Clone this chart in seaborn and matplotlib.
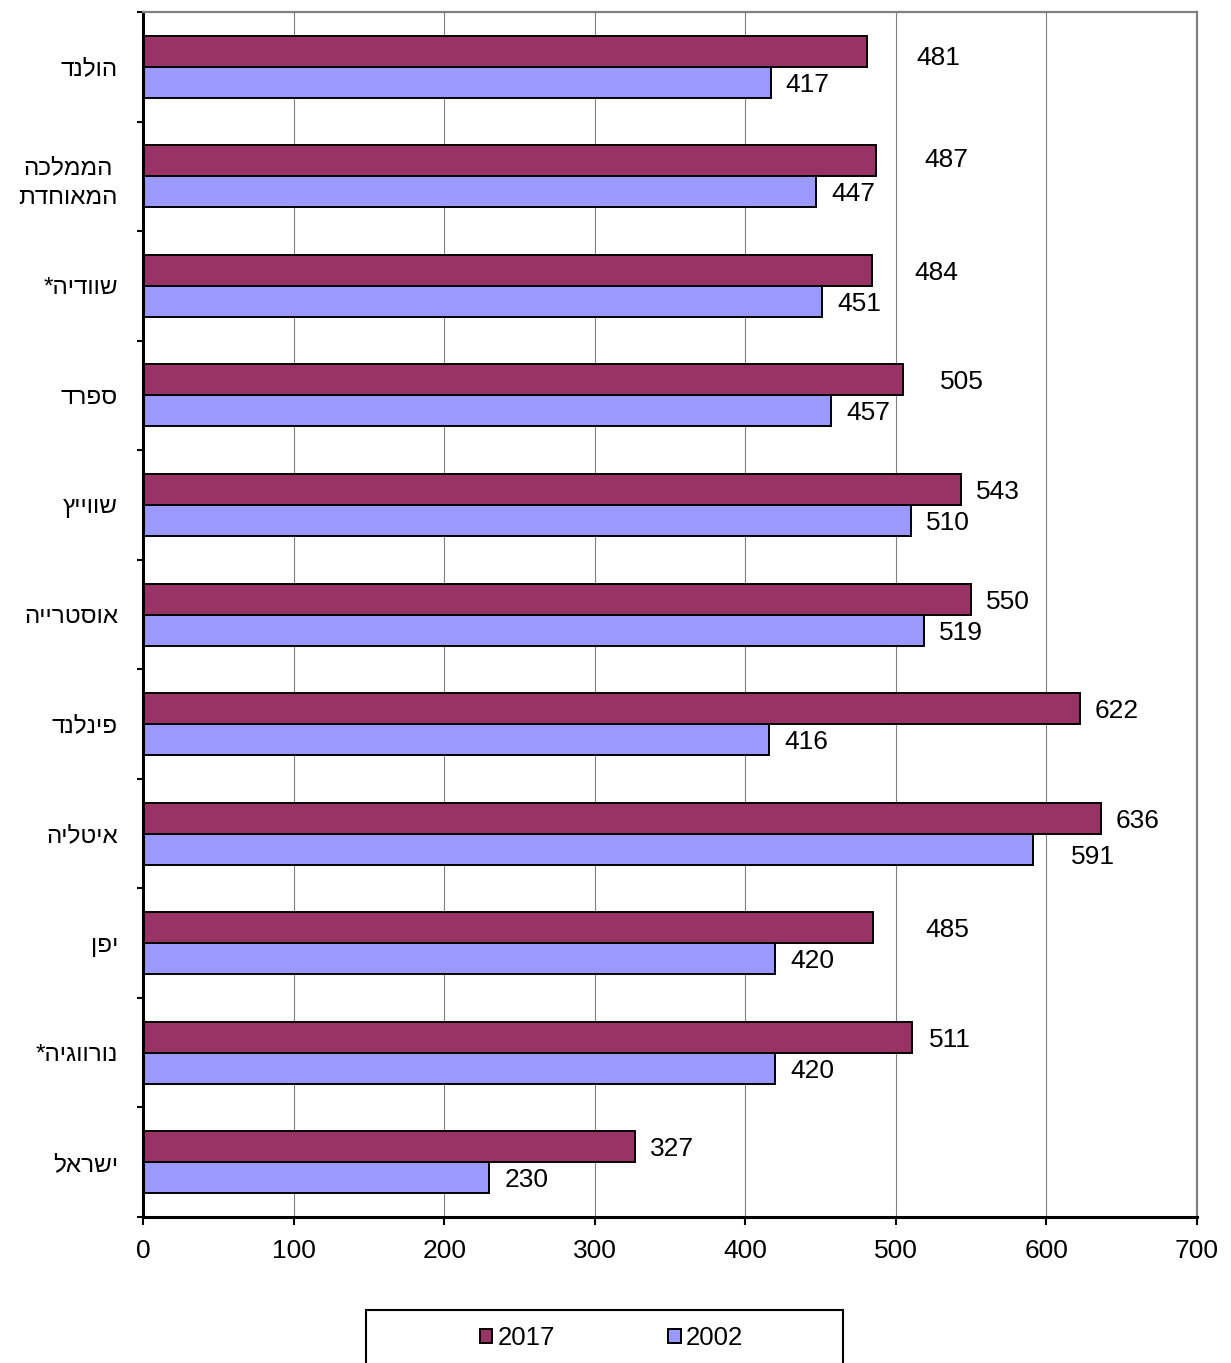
import numpy as np
import pandas as pd
import seaborn as sns
import matplotlib.pyplot as plt
from matplotlib.patches import Patch, Rectangle
from matplotlib.ticker import FixedLocator, NullFormatter

plt.rcParams['font.family'] = ['Liberation Sans', 'DejaVu Sans']

# data (top to bottom)
countries = ['הולנד', 'הממלכה\nהמאוחדת', 'שוודיה*', 'ספרד', 'שווייץ', 'אוסטרייה',
             'פינלנד', 'איטליה', 'יפן', 'נורווגיה*', 'ישראל']
v2017 = [481, 487, 484, 505, 543, 550, 622, 636, 485, 511, 327]
v2002 = [417, 447, 451, 457, 510, 519, 416, 591, 420, 420, 230]
years = ['2017', '2002']
colors = ['#993366', '#9999FF']
xticks = [0, 100, 200, 300, 400, 500, 600, 700]

# extra shift of some value labels (px right, px down), like the original
nudge_2017 = [(34, 4), (33, -3), (28, 0), (22, 0), (0, 0), (0, 0),
              (0, 0), (0, 0), (37, 0), (0, 0), (0, 0)]
nudge_2002 = [(0, 0), (0, 0), (0, 0), (0, 0), (0, 0), (0, 0),
              (0, 0), (23, 5), (0, 0), (0, 0), (0, 0)]

df = pd.DataFrame({
    'country': countries * 2,
    'year': [years[0]] * len(countries) + [years[1]] * len(countries),
    'value': v2017 + v2002,
})

# matplotlib has no bidi, so hebrew is reversed for display
disp = ['\n'.join(line[::-1] for line in c.split('\n')) for c in countries]

fig = plt.figure(figsize=(12.31, 13.63), dpi=100)
ax = fig.add_axes([0.1162, 0.1071, 0.8562, 0.8841])

sns.barplot(data=df, y='country', x='value', hue='year', hue_order=years,
            palette=colors, orient='h', width=0.566, saturation=1,
            edgecolor='black', linewidth=1.4, errorbar=None, legend=False, ax=ax)

ax.set_xlim(0, 700)
ax.set_ylim(len(countries) - 0.5, -0.5)
ax.set_xlabel('')
ax.set_ylabel('')
ax.set_xticks(xticks)

# category ticks at the boundaries, labels in the middle
ax.yaxis.set_major_locator(FixedLocator(np.arange(-0.5, len(countries), 1)))
ax.yaxis.set_major_formatter(NullFormatter())
ax.set_yticks(range(len(countries)), labels=disp, minor=True)
for t in ax.get_yticklabels(minor=True):
    t.set_multialignment('center')
    t.set_linespacing(1.5)

ax.tick_params(axis='y', which='major', length=4.5, width=1.5)
ax.tick_params(axis='y', which='minor', length=0, pad=18, labelsize=17.5)
ax.tick_params(axis='x', length=6, width=1.5, pad=10, labelsize=19)

ax.set_axisbelow(True)
ax.xaxis.grid(True, color='#808080', lw=0.8)

for s in ['left', 'bottom']:
    ax.spines[s].set_color('black')
    ax.spines[s].set_linewidth(2.2)
for s in ['top', 'right']:
    ax.spines[s].set_color('#808080')
    ax.spines[s].set_linewidth(1.6)

# value labels
for cont, vals, nudges in zip(ax.containers, [v2017, v2002], [nudge_2017, nudge_2002]):
    for bar, v, (dx, dy) in zip(cont, vals, nudges):
        y = bar.get_y() + bar.get_height() / 2
        ax.annotate(str(v), (v, y), xytext=(26.6 + dx * 0.72, -(dy + 2.5) * 0.72),
                    textcoords='offset points', ha='center', va='center', fontsize=19)

# legend
handles = [Patch(facecolor=c, edgecolor='black', lw=1.4, label=y) for c, y in zip(colors, years)]
fig.legend(handles=handles, loc='center', bbox_to_anchor=(0.4967, 0.0183), ncol=2,
           frameon=False, fontsize=18.5, handlelength=0.5, handleheight=0.5,
           handletextpad=0.2, columnspacing=4.4)
fig.add_artist(Rectangle((366 / 1231, -0.01), 477 / 1231, 0.0489, transform=fig.transFigure,
                         fill=False, edgecolor='black', lw=1.5))

fig.savefig('out.png', dpi=100)
